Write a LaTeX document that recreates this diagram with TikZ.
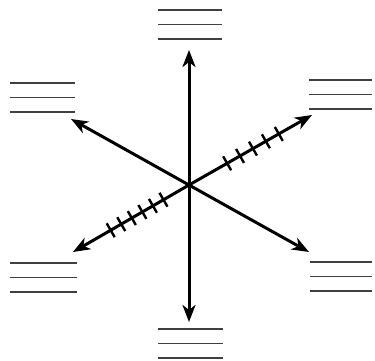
\documentclass[tikz,border=0pt]{standalone}
\usetikzlibrary{arrows.meta,decorations.markings}
% three short lines standing for a label: left x, right x, top y
\newcommand{\txtlines}[3]{%
  \foreach \k in {0,1,2}
    \draw[txtline] (#1,{#3+14.5*\k}) -- (#2,{#3+14.5*\k});}

\begin{document}
\begin{tikzpicture}[
    x=1pt, y=-1pt,
    arr/.style={-{Stealth[length=17pt, width=13pt, inset=5pt]}, line width=3pt},
    txtline/.style={line width=1.8pt, black!75},
    hatchmark/.style={-, line width=2.4pt},
  ]
    \useasboundingbox (0,0) rectangle (375,360);

    % centre and arrow tips
    \coordinate (c) at (189,185);
    \coordinate (tipN) at (189,50);
    \coordinate (tipS) at (189,322);
    \coordinate (tipNW) at (71,119);
    \coordinate (tipSW) at (73,252);
    \coordinate (tipNE) at (312,115);
    \coordinate (tipSE) at (309,252);

    % plain arrows
    \draw[arr] (c) -- (tipN);
    \draw[arr] (c) -- (tipS);
    \draw[arr] (c) -- (tipNW);
    \draw[arr] (c) -- (tipSE);

    % hatched arrows
    \draw[arr, postaction={decorate}, decoration={markings,
        mark=between positions 0.31 and 0.73 step 0.105 with
          {\draw[hatchmark] (0,-8pt) -- (0,8pt);}}]
      (c) -- (tipNE);
    \draw[arr, postaction={decorate}, decoration={markings,
        mark=between positions 0.22 and 0.68 step 0.091 with
          {\draw[hatchmark] (0,-8pt) -- (0,8pt);}}]
      (c) -- (tipSW);

    % label lines at the ends
    \txtlines{158}{222}{10}
    \txtlines{10}{75}{83}
    \txtlines{309}{372}{80}
    \txtlines{10}{77}{263}
    \txtlines{310}{372}{262}
    \txtlines{158}{223}{329}
  \end{tikzpicture}
\end{document}
